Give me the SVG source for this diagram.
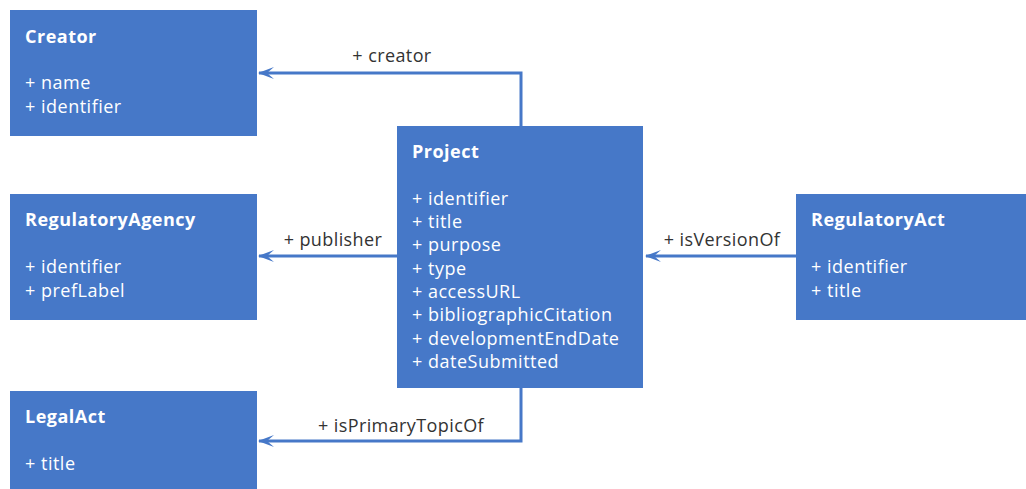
<svg xmlns="http://www.w3.org/2000/svg" width="1026" height="489" viewBox="0 0 1026 489">
<style>
.box{fill:#4678c8}
.t{font-family:"Open Sans","Noto Sans","DejaVu Sans",sans-serif;font-size:18px;letter-spacing:0.5px;fill:#fff}
.b{font-weight:bold}
.l{font-family:"Open Sans","Noto Sans","DejaVu Sans",sans-serif;font-size:18px;letter-spacing:0.4px;fill:#333}
.c{fill:none;stroke:#4678c8;stroke-width:3}
</style>
<defs>
<marker id="arr" viewBox="0 0 16 12" refX="15" refY="6" markerWidth="16" markerHeight="12" markerUnits="userSpaceOnUse" orient="auto">
<path d="M0,0 L16,6 L0,12 L7,6 Z" fill="#4678c8"/>
</marker>
</defs>
<rect width="1026" height="489" fill="#fff"/>
<g id="connectors">
<polyline class="c" points="521,126 521,73 259,73" marker-end="url(#arr)"/>
<text class="l" x="392" y="62" text-anchor="middle">+ creator</text>
<line class="c" x1="397" y1="256" x2="259" y2="256" marker-end="url(#arr)"/>
<text class="l" x="333" y="246" text-anchor="middle">+ publisher</text>
<line class="c" x1="796" y1="256" x2="646" y2="256" marker-end="url(#arr)"/>
<text class="l" x="722" y="246" text-anchor="middle">+ isVersionOf</text>
<polyline class="c" points="521,388 521,441 259,441" marker-end="url(#arr)"/>
<text class="l" x="401" y="432" text-anchor="middle">+ isPrimaryTopicOf</text>
</g>
<g id="creator">
<rect class="box" x="10" y="10" width="247" height="126"/>
<text class="t b" x="25" y="43">Creator</text>
<text class="t" x="25" y="89">+ name</text>
<text class="t" x="25" y="113">+ identifier</text>
</g>
<g id="regulatoryAgency">
<rect class="box" x="10" y="194" width="247" height="126"/>
<text class="t b" x="25" y="226">RegulatoryAgency</text>
<text class="t" x="25" y="273">+ identifier</text>
<text class="t" x="25" y="297">+ prefLabel</text>
</g>
<g id="legalAct">
<rect class="box" x="10" y="391" width="247" height="98"/>
<text class="t b" x="25" y="423">LegalAct</text>
<text class="t" x="25" y="470">+ title</text>
</g>
<g id="project">
<rect class="box" x="397" y="126" width="246" height="262"/>
<text class="t b" x="412" y="158">Project</text>
<text class="t" x="412" y="205">+ identifier</text>
<text class="t" x="412" y="228">+ title</text>
<text class="t" x="412" y="251">+ purpose</text>
<text class="t" x="412" y="275">+ type</text>
<text class="t" x="412" y="298">+ accessURL</text>
<text class="t" x="412" y="321">+ bibliographicCitation</text>
<text class="t" x="412" y="345">+ developmentEndDate</text>
<text class="t" x="412" y="368">+ dateSubmitted</text>
</g>
<g id="regulatoryAct">
<rect class="box" x="796" y="194" width="230" height="126"/>
<text class="t b" x="811" y="226">RegulatoryAct</text>
<text class="t" x="811" y="273">+ identifier</text>
<text class="t" x="811" y="297">+ title</text>
</g>
</svg>
